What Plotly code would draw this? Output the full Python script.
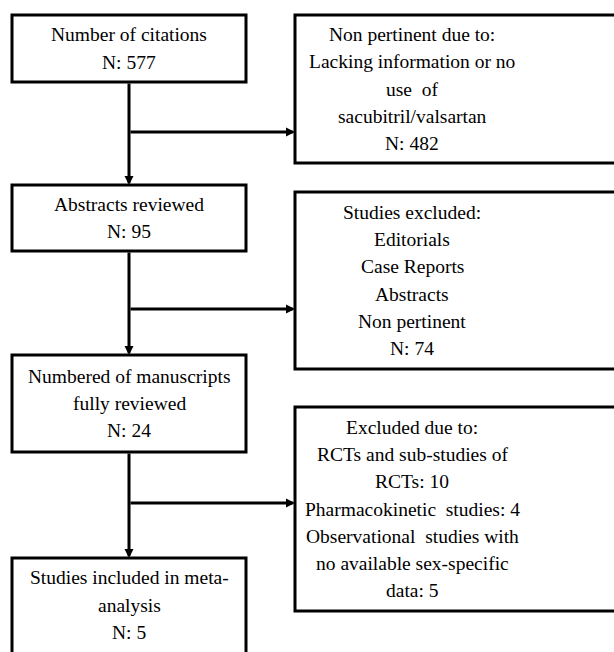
import plotly.graph_objects as go

# Flow chart content
main_steps = [
    "Number of citations",
    "Abstracts reviewed",
    "Numbered of manuscripts<br>fully reviewed",
    "Studies included in meta-<br>analysis",
]
main_counts = [577, 95, 24, 5]

excluded_text = [
    "Non pertinent due to:<br>Lacking information or no<br>use  of<br>sacubitril/valsartan",
    "Studies excluded:<br>Editorials<br>Case Reports<br>Abstracts<br>Non pertinent",
    "Excluded due to:<br>RCTs and sub-studies of<br>RCTs: 10<br>Pharmacokinetic  studies: 4<br>"
    "Observational  studies with<br>no available sex-specific<br>data: 5",
]
excluded_counts = [482, 74, None]

W, H = 614, 652
LINE = 27.2  # line pitch of the box text
FONT = dict(family="Liberation Serif, Times New Roman, serif", size=19.5, color="black")

# box geometry in page pixels (top, bottom)
left_x = (12, 246)
right_x = (295, 660)
main_y = [(15, 82), (185, 251), (355, 452), (558, 680)]
side_y = [(15, 163), (192, 369), (407, 611)]
branch_y = [132, 309, 503]
cx = (left_x[0] + left_x[1]) / 2

shapes = []
annotations = []


def add_box(x0, x1, y0, y1, text, tx, ty):
    shapes.append(dict(type="rect", xref="x", yref="y", x0=x0, x1=x1, y0=y0, y1=y1,
                       line=dict(color="black", width=3), fillcolor="white"))
    lines = text.split("<br>")
    for k, line in enumerate(lines):
        annotations.append(dict(x=tx, y=ty + (k - (len(lines) - 1) / 2) * LINE,
                                xref="x", yref="y", text=line, showarrow=False,
                                font=FONT, align="center"))


def add_arrow(x0, y0, x1, y1):
    annotations.append(dict(x=x1, y=y1, ax=x0, ay=y0, xref="x", yref="y",
                            axref="x", ayref="y", text="", showarrow=True,
                            arrowhead=2, arrowsize=0.6, arrowwidth=3,
                            arrowcolor="black", standoff=0))


for i, (label, n) in enumerate(zip(main_steps, main_counts)):
    y0, y1 = main_y[i]
    ty = 605 if i == 3 else (y0 + y1) / 2
    add_box(left_x[0], left_x[1], y0, y1, f"{label}<br>N: {n}", cx, ty)

for i, (label, n) in enumerate(zip(excluded_text, excluded_counts)):
    y0, y1 = side_y[i]
    text = label if n is None else f"{label}<br>N: {n}"
    add_box(right_x[0], right_x[1], y0, y1, text, 412, (y0 + y1) / 2)

for i in range(3):
    add_arrow(cx, main_y[i][1], cx, main_y[i + 1][0])
    add_arrow(cx, branch_y[i], right_x[0], branch_y[i])

fig = go.Figure()
fig.update_layout(
    width=W, height=H,
    margin=dict(l=0, r=0, t=0, b=0),
    paper_bgcolor="white", plot_bgcolor="white",
    xaxis=dict(range=[0, W], visible=False, fixedrange=True),
    yaxis=dict(range=[H, 0], visible=False, fixedrange=True),
    shapes=shapes, annotations=annotations, showlegend=False,
)
fig.write_html(
    "out.html",
    config={"displayModeBar": False},
    post_script="document.body.style.margin='0';document.body.style.overflow='hidden';",
)
